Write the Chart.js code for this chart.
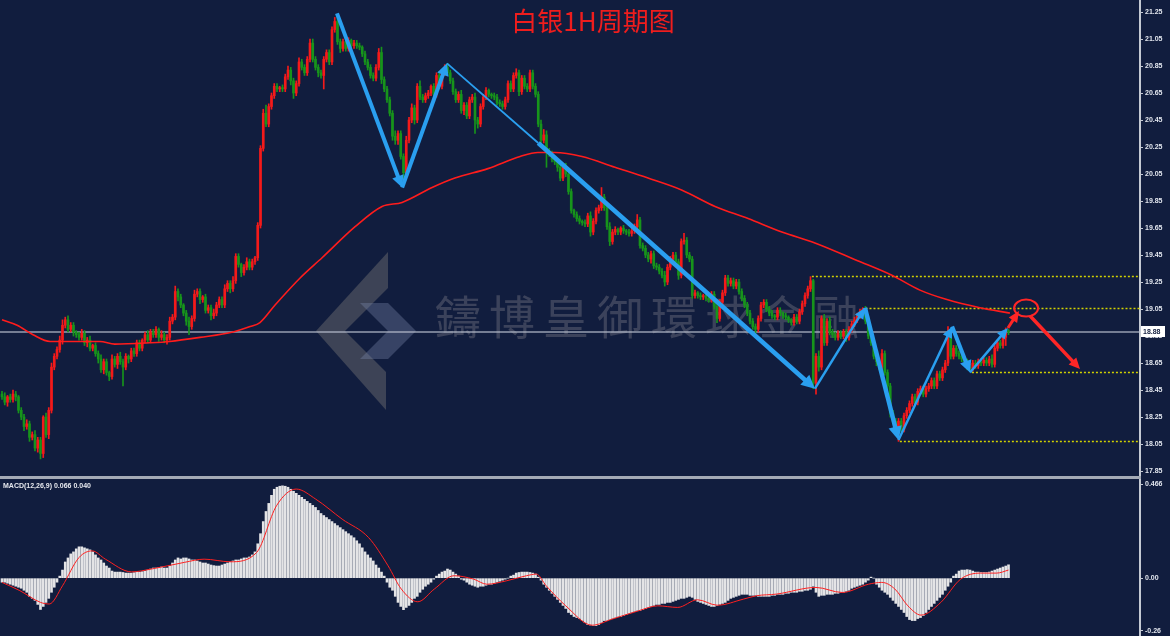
<!DOCTYPE html>
<html>
<head>
<meta charset="utf-8">
<script src="https://cdn.jsdelivr.net/npm/chart.js@4.4.1/dist/chart.umd.min.js"></script>
<style>
  html, body { margin: 0; padding: 0; background: #111d3e; }
  canvas { display: block; }
</style>
</head>
<body>
<canvas id="chart" width="1170" height="636"></canvas>
<script>
// ===== 白银 1H データ =====
const firstOpen = 18.42;

// 終値（1本ごと）
const closes = [
  18.40, 18.36, 18.40, 18.38, 18.42, 18.40, 18.30, 18.25, 18.18, 18.20,
  18.10, 18.12, 18.02, 18.08, 17.98, 18.25, 18.12, 18.30, 18.62, 18.70,
  18.75, 18.82, 18.93, 18.97, 18.90, 18.93, 18.88, 18.86, 18.84, 18.87,
  18.80, 18.82, 18.76, 18.78, 18.72, 18.68, 18.60, 18.66, 18.58, 18.55,
  18.68, 18.64, 18.70, 18.66, 18.62, 18.70, 18.68, 18.74, 18.72, 18.80,
  18.76, 18.82, 18.86, 18.82, 18.88, 18.86, 18.90, 18.84, 18.86, 18.82,
  18.84, 18.96, 18.99, 19.18, 19.14, 19.08, 19.02, 18.96, 18.92, 18.98,
  19.16, 19.18, 19.12, 19.14, 19.04, 19.06, 19.00, 19.02, 19.08, 19.12,
  19.08, 19.20, 19.24, 19.20, 19.26, 19.44, 19.38, 19.32, 19.36, 19.40,
  19.36, 19.40, 19.43, 19.67, 20.24, 20.50, 20.42, 20.55, 20.63, 20.70,
  20.68, 20.69, 20.68, 20.77, 20.82, 20.74, 20.65, 20.72, 20.88, 20.84,
  20.80, 20.90, 21.02, 20.90, 20.84, 20.80, 20.78, 20.90, 20.95, 20.88,
  21.12, 21.18, 21.03, 20.98, 21.03, 20.98, 21.04, 21.00, 21.02, 21.00,
  20.99, 20.94, 20.88, 20.84, 20.78, 20.76, 20.84, 20.95, 20.75, 20.68,
  20.60, 20.50, 20.33, 20.30, 20.35, 20.18, 20.06, 20.30, 20.45, 20.54,
  20.45, 20.70, 20.62, 20.60, 20.63, 20.65, 20.70, 20.64, 20.78, 20.70,
  20.80, 20.84, 20.80, 20.74, 20.66, 20.60, 20.64, 20.52, 20.56, 20.48,
  20.60, 20.62, 20.45, 20.42, 20.55, 20.62, 20.67, 20.64, 20.63, 20.62,
  20.58, 20.57, 20.55, 20.60, 20.72, 20.68, 20.78, 20.80, 20.66, 20.76,
  20.70, 20.68, 20.80, 20.70, 20.64, 20.42, 20.30, 20.34, 20.22, 20.20,
  20.16, 20.14, 20.10, 20.02, 20.10, 20.05, 19.92, 19.78, 19.75, 19.72,
  19.70, 19.69, 19.68, 19.74, 19.62, 19.70, 19.78, 19.80, 19.88, 19.80,
  19.66, 19.55, 19.62, 19.64, 19.62, 19.65, 19.63, 19.62, 19.61, 19.63,
  19.66, 19.71, 19.52, 19.50, 19.45, 19.42, 19.46, 19.37, 19.36, 19.33,
  19.30, 19.25, 19.36, 19.42, 19.45, 19.40, 19.30, 19.55, 19.56, 19.45,
  19.42, 19.15, 19.17, 19.15, 19.14, 19.15, 19.13, 19.12, 19.16, 19.07,
  18.98, 19.10, 19.17, 19.28, 19.24, 19.26, 19.22, 19.25, 19.18, 19.13,
  19.08, 19.02, 18.96, 18.92, 18.90, 18.98, 19.08, 19.10, 19.05, 19.02,
  19.00, 18.99, 19.04, 19.02, 19.00, 18.99, 18.97, 18.95, 18.99, 18.96,
  19.03, 19.09, 19.15, 19.20, 19.26, 18.50, 18.70, 18.62, 18.98, 18.80,
  18.96, 18.88, 18.86, 18.84, 18.87, 18.85, 18.88, 18.84, 18.90, 18.94,
  18.97, 19.00, 19.03, 19.05, 18.96, 18.85, 18.80, 18.70, 18.66, 18.62,
  18.72, 18.58, 18.48, 18.28, 18.22, 18.15, 18.22, 18.16, 18.26, 18.30,
  18.35, 18.40, 18.36, 18.44, 18.46, 18.42, 18.46, 18.48, 18.52, 18.48,
  18.57, 18.54, 18.60, 18.65, 18.86, 18.70, 18.76, 18.72, 18.70, 18.68,
  18.66, 18.62, 18.61, 18.65, 18.63, 18.66, 18.65, 18.67, 18.65, 18.68,
  18.64, 18.76, 18.80, 18.78, 18.84, 18.89, 18.88
];

// ヒゲの長さ（セント単位）
const wickUp = [
  2,3,1,2,3,2,1,2,2,3, 2,2,3,2,2,1,3,2,3,2, 2,3,4,2,3,2,2,1,2,3, 2,2,3,1,2,2,3,2,2,1,
  3,2,2,3,2,2,1,2,2,2, 2,1,2,3,2,2,2,1,3,2, 2,3,2,4,2,2,1,2,3,2, 3,2,2,1,2,2,2,3,2,2,
  2,3,2,2,3,2,2,1,2,3, 2,2,1,2,2,3,6,2,2,2, 2,1,2,2,3,2,2,2,3,2, 2,2,3,3,2,2,2,2,2,2,
  2,3,5,2,2,2,2,1,2,2, 2,1,2,2,2,2,2,3,4,2, 2,2,2,4,2,2,2,3,2,3, 2,2,4,2,2,2,1,2,2,3,
  2,2,3,2,2,2,2,3,2,2, 2,2,3,2,2,2,2,1,1,2, 2,2,2,2,2,2,2,3,2,2, 2,2,2,2,2,2,3,4,3,2,
  2,2,2,3,2,3,2,2,1,2, 2,1,2,2,3,2,2,2,7,2, 2,3,2,2,1,1,2,1,2,2, 2,4,2,2,2,2,2,2,2,2,
  2,3,2,2,2,2,2,2,5,2, 2,2,2,1,2,1,2,2,2,2, 2,2,2,2,2,2,2,2,2,2, 2,2,2,2,2,2,2,2,2,2,
  2,1,2,2,1,2,1,1,2,2, 2,2,2,2,3,1,2,4,2,3, 2,3,2,2,2,2,2,2,2,2, 2,2,2,1,2,3,2,2,2,2,
  3,2,2,2,2,2,2,2,2,2, 2,2,2,2,2,2,2,2,2,2, 2,2,2,2,6,2,2,2,2,2, 2,2,2,2,2,2,2,2,2,2,
  3,2,2,2,2,2,1
];
const wickDn = [
  2,2,3,2,2,3,2,2,3,2, 3,2,2,3,4,3,2,3,2,2, 2,2,3,2,2,2,3,2,2,2, 2,3,2,2,2,3,2,3,2,3,
  2,2,3,2,14,2,3,2,2,2, 2,2,2,2,2,2,2,3,2,2, 3,2,2,2,3,2,2,3,6,2, 2,2,3,2,2,2,3,2,2,2,
  2,2,2,3,2,2,2,3,2,2, 2,2,2,2,2,2,2,2,2,2, 2,2,2,2,2,3,4,2,2,2, 2,2,2,2,2,3,2,10,2,2,
  2,2,2,3,2,2,2,2,2,2, 2,2,2,2,2,2,2,2,3,2, 2,2,3,3,3,2,7,2,2,2, 3,2,2,2,2,2,2,2,2,2,
  2,2,2,2,2,2,2,2,3,2, 2,2,10,3,2,2,2,2,2,2, 2,2,2,2,2,2,2,2,3,2, 2,2,2,2,2,2,2,2,12,2,
  2,2,3,2,2,2,2,2,2,2, 2,2,2,2,3,2,2,2,2,2, 2,3,2,2,2,2,2,2,2,2, 2,2,2,2,2,2,3,2,2,2,
  2,3,2,2,2,2,3,2,2,2, 2,2,2,2,2,2,2,2,2,2, 3,2,2,2,2,2,2,2,2,2, 2,2,2,2,3,2,2,2,2,2,
  2,2,2,2,2,2,2,2,2,2, 2,2,2,2,2,4,8,3,2,2, 2,2,2,2,2,2,2,3,2,2, 2,2,2,2,2,2,2,2,3,2,
  2,2,3,3,2,3,8,2,2,2, 2,2,2,2,2,2,2,2,2,2, 2,2,2,2,2,2,2,2,2,2, 2,2,2,2,2,2,2,2,2,2,
  2,2,2,2,2,6,2
];

// 移動平均線（赤）
const maIdx = [0, 5.5, 11.3, 17.5, 35.6, 41, 53.8, 61, 72, 84, 90.2, 93.8, 99.3, 108.4, 116.4,
  128.4, 138.2, 145.5, 156.4, 164.7, 176.7, 188.4, 194.9, 201.1, 210.9, 222.9, 234.9,
  247.3, 259.3, 271.3, 283.6, 295.6, 310.9, 323.6, 333.8, 343.6, 355.6, 366.5];
const maVal = [18.97, 18.93, 18.86, 18.81, 18.81, 18.79, 18.80, 18.81, 18.84, 18.88, 18.92, 18.95, 19.08, 19.28, 19.43,
  19.66, 19.81, 19.84, 19.95, 20.02, 20.09, 20.18, 20.21, 20.21, 20.18, 20.10, 20.02,
  19.93, 19.81, 19.72, 19.62, 19.54, 19.41, 19.30, 19.19, 19.12, 19.06, 19.02];

// MACD ヒストグラム
const macdHist = [
  -0.02, -0.02, -0.025, -0.03, -0.035, -0.04, -0.045, -0.05, -0.06, -0.07,
  -0.09, -0.10, -0.11, -0.13, -0.155, -0.14, -0.12, -0.10, -0.07, -0.045,
  -0.02, 0.01, 0.04, 0.08, 0.10, 0.12, 0.13, 0.145, 0.155, 0.155,
  0.15, 0.145, 0.14, 0.13, 0.115, 0.10, 0.09, 0.075, 0.06, 0.05,
  0.035, 0.03, 0.03, 0.03, 0.028, 0.025, 0.025, 0.025, 0.027, 0.03,
  0.03, 0.032, 0.035, 0.04, 0.045, 0.05, 0.05, 0.052, 0.055, 0.05,
  0.05, 0.06, 0.075, 0.09, 0.10, 0.095, 0.10, 0.10, 0.095, 0.09,
  0.09, 0.085, 0.08, 0.075, 0.075, 0.07, 0.065, 0.062, 0.06, 0.06,
  0.065, 0.07, 0.075, 0.08, 0.085, 0.09, 0.09, 0.095, 0.10, 0.10,
  0.105, 0.115, 0.13, 0.17, 0.22, 0.28, 0.33, 0.37, 0.41, 0.44,
  0.45, 0.455, 0.457, 0.455, 0.45, 0.44, 0.43, 0.42, 0.41, 0.40,
  0.39, 0.38, 0.37, 0.36, 0.35, 0.335, 0.32, 0.31, 0.30, 0.29,
  0.28, 0.27, 0.26, 0.25, 0.24, 0.23, 0.22, 0.21, 0.20, 0.185,
  0.17, 0.15, 0.13, 0.115, 0.10, 0.085, 0.065, 0.05, 0.03, 0.01,
  -0.02, -0.045, -0.06, -0.09, -0.12, -0.14, -0.156, -0.145, -0.135, -0.12,
  -0.10, -0.09, -0.07, -0.055, -0.04, -0.03, -0.02, -0.005, 0.01, 0.02,
  0.03, 0.035, 0.045, 0.04, 0.03, 0.02, 0.01, -0.005, -0.01, -0.02,
  -0.03, -0.035, -0.04, -0.045, -0.04, -0.04, -0.035, -0.03, -0.03, -0.025,
  -0.02, -0.015, -0.01, -0.005, 0.0, 0.01, 0.015, 0.025, 0.028, 0.03,
  0.03, 0.03, 0.028, 0.025, 0.02, 0.005, -0.01, -0.03, -0.045, -0.06,
  -0.075, -0.09, -0.105, -0.12, -0.135, -0.15, -0.17, -0.18, -0.19, -0.195,
  -0.20, -0.21, -0.22, -0.23, -0.232, -0.235, -0.235, -0.23, -0.22, -0.21,
  -0.21, -0.205, -0.20, -0.195, -0.19, -0.19, -0.185, -0.18, -0.175, -0.17,
  -0.165, -0.16, -0.16, -0.155, -0.15, -0.145, -0.14, -0.135, -0.13, -0.13,
  -0.125, -0.125, -0.12, -0.12, -0.115, -0.11, -0.105, -0.10, -0.10, -0.095,
  -0.09, -0.095, -0.105, -0.115, -0.12, -0.125, -0.13, -0.135, -0.14, -0.14,
  -0.135, -0.13, -0.125, -0.12, -0.11, -0.10, -0.095, -0.09, -0.085, -0.08,
  -0.08, -0.08, -0.085, -0.085, -0.085, -0.09, -0.09, -0.09, -0.09, -0.09,
  -0.085, -0.085, -0.08, -0.08, -0.08, -0.075, -0.075, -0.07, -0.07, -0.07,
  -0.065, -0.065, -0.06, -0.06, -0.055, -0.04, -0.07, -0.09, -0.085, -0.085,
  -0.08, -0.08, -0.08, -0.075, -0.075, -0.07, -0.07, -0.065, -0.06, -0.05,
  -0.045, -0.04, -0.035, -0.03, -0.02, -0.01, 0.005, 0.0, -0.03, -0.045,
  -0.06, -0.07, -0.08, -0.095, -0.11, -0.125, -0.14, -0.155, -0.17, -0.19,
  -0.205, -0.21, -0.21, -0.20, -0.195, -0.185, -0.17, -0.155, -0.14, -0.125,
  -0.11, -0.095, -0.08, -0.06, -0.04, -0.02, 0.01, 0.02, 0.035, 0.04,
  0.04, 0.042, 0.04, 0.035, 0.03, 0.03, 0.028, 0.028, 0.028, 0.03,
  0.035, 0.04, 0.045, 0.05, 0.055, 0.06, 0.066
];

// シグナル線（赤）
const signalIdx = [0, 6.5, 14, 17.2, 22, 28, 32.8, 37.6, 47.1, 54.3, 66.3, 73.5, 83, 92.6, 99.8, 107,
  114.1, 123.7, 133.3, 140.4, 145.2, 151.2, 157.2, 164.4, 171.5, 176.3, 183.5, 190.7, 194.3,
  197.9, 205, 214.6, 221.8, 231.4, 238.5, 245.7, 252.9, 260.1, 269.6, 274.4, 281.6, 296,
  305.5, 315.1, 319.9, 324.7, 329.4, 334.2, 341.4, 348.6, 355.8, 361.7, 366];
const signalVal = [-0.021, -0.062, -0.12, -0.128, -0.038, 0.102, 0.135, 0.094, 0.031, 0.045, 0.078, 0.094, 0.081, 0.127, 0.358, 0.441,
  0.391, 0.292, 0.201, 0.061, -0.054, -0.117, -0.054, 0.012, -0.005, -0.030, -0.013, 0.012, 0.020,
  -0.038, -0.137, -0.233, -0.203, -0.162, -0.137, -0.145, -0.107, -0.134, -0.104, -0.087, -0.079, -0.046,
  -0.071, -0.030, -0.021, -0.054, -0.137, -0.183, -0.120, -0.005, 0.025, 0.025, 0.040];

// 目盛り
const priceTicks = [17.85, 18.05, 18.25, 18.45, 18.65, 18.85, 19.05, 19.25, 19.45,
  19.65, 19.85, 20.05, 20.25, 20.45, 20.65, 20.85, 21.05, 21.25];
const macdTicks = [0.466, 0, -0.26];
const lastPrice = 18.88;

// 描き込み（波の転換点：足番号と価格）
const zigIdx   = [121.8, 145.5, 161.8, 195, 295.6, 313.8, 326, 345.5, 352, 365.8];
const zigPrice = [21.24, 19.95, 20.87, 20.28, 18.46, 19.06, 18.08, 18.92, 18.58, 18.91];
// 水平の点線（開始足と価格）
const levelIdx   = [294.5, 314, 352.7, 326.5];
const levelPrice = [19.295, 19.057, 18.583, 18.07];
// 赤い予想（上昇→円→下落）
const upIdx = [365.8, 369.8],   upPrice = [18.91, 19.035];
const downIdx = [373.8, 392],   downPrice = [19.0, 18.606];
const ringIdx = 372.4, ringPrice = 19.057;

// ===== 見た目 =====
const BG = "#111d3e";
const UP = "#f41a1a";
const DOWN = "#17941b";
const BLUE = "#2a9ff0";
const RED = "#ff2626";
const zigWidth = [4, 4, 1.8, 4.5, 2.5, 4.5, 2.5, 4, 2.5];
const zigHead  = [true, true, false, true, true, true, true, true, true];

const opens = closes.map((c, i) => i === 0 ? firstOpen : closes[i - 1]);
const highs = closes.map((c, i) => Math.max(opens[i], c) + wickUp[i] / 100);
const lows  = closes.map((c, i) => Math.min(opens[i], c) - wickDn[i] / 100);
const colors = closes.map((c, i) => c > opens[i] ? UP : DOWN);

function poly(ctx, pts) {
  ctx.beginPath();
  pts.forEach((p, k) => k ? ctx.lineTo(p[0], p[1]) : ctx.moveTo(p[0], p[1]));
  ctx.closePath();
  ctx.fill();
}

function arrow(ctx, x1, y1, x2, y2, w, color, head) {
  const a = Math.atan2(y2 - y1, x2 - x1);
  const len = Math.max(11, w * 3);
  const hw = Math.max(5, w * 1.5);
  const c = Math.cos(a), s = Math.sin(a);
  ctx.strokeStyle = color;
  ctx.lineWidth = w;
  ctx.lineCap = "butt";
  ctx.beginPath();
  ctx.moveTo(x1, y1);
  ctx.lineTo(head ? x2 - c * len * 0.8 : x2, head ? y2 - s * len * 0.8 : y2);
  ctx.stroke();
  if (head) {
    ctx.fillStyle = color;
    ctx.beginPath();
    ctx.moveTo(x2, y2);
    ctx.lineTo(x2 - c * len - s * hw, y2 - s * len + c * hw);
    ctx.lineTo(x2 - c * len + s * hw, y2 - s * len - c * hw);
    ctx.closePath();
    ctx.fill();
  }
}

const overlay = {
  id: "overlay",
  beforeDraw(chart) {
    const ctx = chart.ctx;
    ctx.save();
    ctx.fillStyle = BG;
    ctx.fillRect(0, 0, chart.width, chart.height);
    ctx.restore();
  },
  beforeDatasetsDraw(chart) {
    const ctx = chart.ctx;
    const {x, y} = chart.scales;
    const right = chart.chartArea.right;
    ctx.save();

    // ロゴ（透かし）
    ctx.fillStyle = "rgba(105,105,110,0.5)";
    poly(ctx, [[388, 252], [388, 288], [345, 331], [316, 331]]);
    poly(ctx, [[316, 331], [345, 331], [386, 372], [386, 410]]);
    ctx.fillStyle = "rgba(125,140,175,0.35)";
    poly(ctx, [[360, 303], [388, 303], [416, 331], [388, 359], [360, 359], [388, 331]]);

    // 透かし文字
    ctx.fillStyle = "rgba(118,120,130,0.42)";
    ctx.font = "46px 'Noto Sans CJK TC'";
    ctx.textBaseline = "middle";
    ctx.textAlign = "left";
    Array.from("鑄博皇御環球金融").forEach((ch, k) => ctx.fillText(ch, 435 + k * 54, 317));

    // 現在値ライン
    const py = y.getPixelForValue(lastPrice);
    ctx.strokeStyle = "rgba(185,192,208,0.8)";
    ctx.lineWidth = 1.5;
    ctx.beginPath();
    ctx.moveTo(0, py);
    ctx.lineTo(right, py);
    ctx.stroke();

    // 黄色の点線
    ctx.strokeStyle = "#d2d200";
    ctx.lineWidth = 1.5;
    ctx.setLineDash([2, 2]);
    levelIdx.forEach((idx, k) => {
      const ly = Math.round(y.getPixelForValue(levelPrice[k])) + 0.5;
      ctx.beginPath();
      ctx.moveTo(x.getPixelForValue(idx), ly);
      ctx.lineTo(right, ly);
      ctx.stroke();
    });
    ctx.restore();
  },
  afterDatasetsDraw(chart) {
    const ctx = chart.ctx;
    const {x, y} = chart.scales;
    ctx.save();
    // 青い波線
    for (let k = 0; k < zigIdx.length - 1; k++) {
      arrow(ctx,
        x.getPixelForValue(zigIdx[k]), y.getPixelForValue(zigPrice[k]),
        x.getPixelForValue(zigIdx[k + 1]), y.getPixelForValue(zigPrice[k + 1]),
        zigWidth[k], BLUE, zigHead[k]);
    }
    // 赤い予想
    arrow(ctx, x.getPixelForValue(upIdx[0]), y.getPixelForValue(upPrice[0]),
      x.getPixelForValue(upIdx[1]), y.getPixelForValue(upPrice[1]), 3, RED, true);
    arrow(ctx, x.getPixelForValue(downIdx[0]), y.getPixelForValue(downPrice[0]),
      x.getPixelForValue(downIdx[1]), y.getPixelForValue(downPrice[1]), 3.5, RED, true);
    ctx.strokeStyle = RED;
    ctx.lineWidth = 2;
    ctx.beginPath();
    ctx.ellipse(x.getPixelForValue(ringIdx), y.getPixelForValue(ringPrice), 12, 8.5, 0, 0, Math.PI * 2);
    ctx.stroke();
    ctx.restore();
  },
  afterDraw(chart) {
    const ctx = chart.ctx;
    const {y, y2} = chart.scales;
    const right = chart.chartArea.right;
    ctx.save();
    // パネル区切り
    ctx.fillStyle = "#a4aab6";
    ctx.fillRect(0, y2.top - 1, right + 1, 3);

    // タイトル
    ctx.fillStyle = "#ef1d1d";
    ctx.font = "26px 'Noto Sans CJK SC'";
    ctx.textAlign = "center";
    ctx.textBaseline = "middle";
    ctx.fillText("白银1H周期图", 593, 21);

    // MACD ラベル
    ctx.fillStyle = "#e6e8ee";
    ctx.font = "bold 7px 'Liberation Sans'";
    ctx.textAlign = "left";
    ctx.fillText("MACD(12,26,9) " + macdHist[macdHist.length - 1].toFixed(3) + " " +
      signalVal[signalVal.length - 1].toFixed(3), 3, y2.top + 9);

    // 現在値ラベル
    const py = y.getPixelForValue(lastPrice);
    ctx.fillStyle = "#ffffff";
    ctx.fillRect(right + 1, py - 6, 24, 11);
    ctx.fillStyle = "#111d3e";
    ctx.fillText(lastPrice.toFixed(2), right + 3, py);
    ctx.restore();
  }
};

const axisFont = { family: "'Liberation Sans'", size: 7, weight: "bold" };

new Chart(document.getElementById("chart"), {
  type: "bar",
  data: {
    datasets: [
      {
        type: "line",
        data: maIdx.map((v, k) => ({ x: v, y: maVal[k] })),
        yAxisID: "y",
        borderColor: "#ff1c1c",
        borderWidth: 1.6,
        pointRadius: 0,
        cubicInterpolationMode: "monotone",
        order: 0
      },
      {
        data: closes.map((c, i) => ({ x: i, y: [opens[i], c] })),
        yAxisID: "y",
        backgroundColor: colors,
        barThickness: 2,
        minBarLength: 1,
        grouped: false,
        order: 1
      },
      {
        data: closes.map((c, i) => ({ x: i, y: [lows[i], highs[i]] })),
        yAxisID: "y",
        backgroundColor: colors,
        barThickness: 1,
        grouped: false,
        order: 2
      },
      {
        data: macdHist.map((v, i) => ({ x: i, y: v })),
        yAxisID: "y2",
        backgroundColor: "#e4e4e6",
        barThickness: 2,
        grouped: false,
        order: 3
      },
      {
        type: "line",
        data: signalIdx.map((v, k) => ({ x: v, y: signalVal[k] })),
        yAxisID: "y2",
        borderColor: "#ff2020",
        borderWidth: 1,
        pointRadius: 0,
        cubicInterpolationMode: "monotone",
        order: 0
      }
    ]
  },
  options: {
    responsive: false,
    animation: false,
    devicePixelRatio: 1,
    events: [],
    layout: { padding: 0, autoPadding: false },
    plugins: { legend: { display: false }, tooltip: { enabled: false } },
    scales: {
      x: {
        type: "linear",
        display: false,
        offset: false,
        min: -0.727,
        max: 413.82
      },
      y: {
        type: "linear",
        position: "right",
        stack: "pane",
        stackWeight: 3,
        min: 17.806,
        max: 21.339,
        afterBuildTicks: s => { s.ticks = priceTicks.map(v => ({ value: v })); },
        afterFit: s => { s.width = 30; s.paddingTop = 0; s.paddingBottom = 0; },
        ticks: {
          autoSkip: false,
          padding: 2,
          color: "#e2e6ee",
          font: axisFont,
          callback: v => v.toFixed(2)
        },
        grid: { drawOnChartArea: false, tickLength: 3, color: "#c4c9d3" },
        border: { display: true, color: "#c4c9d3", width: 2 }
      },
      y2: {
        type: "linear",
        position: "right",
        stack: "pane",
        stackWeight: 1,
        min: -0.2864,
        max: 0.5007,
        afterBuildTicks: s => { s.ticks = macdTicks.map(v => ({ value: v })); },
        afterFit: s => { s.width = 30; s.paddingTop = 0; s.paddingBottom = 0; },
        ticks: {
          autoSkip: false,
          padding: 2,
          color: "#e2e6ee",
          font: axisFont,
          callback: v => v === 0.466 ? "0.466" : v.toFixed(2)
        },
        grid: { drawOnChartArea: false, tickLength: 3, color: "#c4c9d3" },
        border: { display: true, color: "#c4c9d3", width: 2 }
      }
    }
  },
  plugins: [overlay]
});
</script>
</body>
</html>
